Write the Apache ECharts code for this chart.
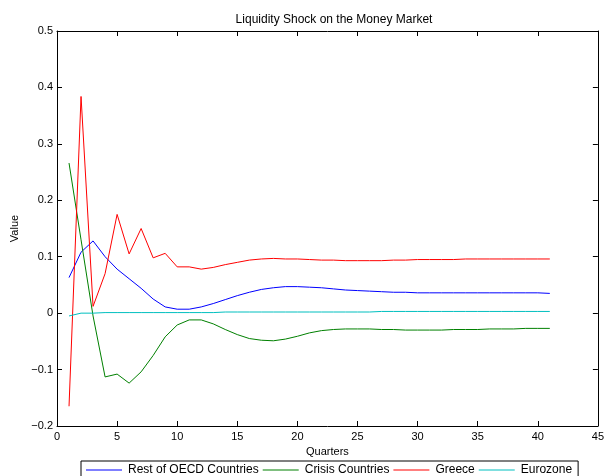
<!DOCTYPE html>
<html>
<head>
<meta charset="utf-8">
<script src="https://cdn.jsdelivr.net/npm/echarts@6/dist/echarts.min.js"></script>
<style>html,body{margin:0;padding:0;background:#fff;}#c{width:607px;height:476px;}</style>
</head>
<body>
<div id="c"></div>
<script>
var quarters = [1,2,3,4,5,6,7,8,9,10,11,12,13,14,15,16,17,18,19,20,21,22,23,24,25,26,27,28,29,30,31,32,33,34,35,36,37,38,39,40,41];
var restOECD = [0.063,0.108,0.128,0.100,0.078,0.061,0.044,0.025,0.011,0.007,0.007,0.011,0.017,0.024,0.031,0.037,0.042,0.045,0.047,0.047,0.046,0.045,0.043,0.041,0.040,0.039,0.038,0.037,0.037,0.036,0.036,0.036,0.036,0.036,0.036,0.036,0.036,0.036,0.036,0.036,0.035];
var crisis = [0.266,0.130,-0.005,-0.113,-0.108,-0.124,-0.104,-0.075,-0.042,-0.021,-0.012,-0.012,-0.019,-0.029,-0.038,-0.045,-0.048,-0.049,-0.046,-0.041,-0.035,-0.031,-0.029,-0.028,-0.028,-0.028,-0.029,-0.029,-0.030,-0.030,-0.030,-0.030,-0.029,-0.029,-0.029,-0.028,-0.028,-0.028,-0.027,-0.027,-0.027];
var greece = [-0.165,0.384,0.012,0.070,0.175,0.105,0.150,0.098,0.106,0.082,0.082,0.078,0.081,0.086,0.090,0.094,0.096,0.097,0.096,0.096,0.095,0.094,0.094,0.093,0.093,0.093,0.093,0.094,0.094,0.095,0.095,0.095,0.095,0.096,0.096,0.096,0.096,0.096,0.096,0.096,0.096];
var eurozone = [-0.005,0.000,0.000,0.001,0.001,0.001,0.001,0.001,0.001,0.001,0.001,0.001,0.001,0.002,0.002,0.002,0.002,0.002,0.002,0.002,0.002,0.002,0.002,0.002,0.002,0.002,0.003,0.003,0.003,0.003,0.003,0.003,0.003,0.003,0.003,0.003,0.003,0.003,0.003,0.003,0.003];
var seriesNames = ['Rest of OECD Countries','Crisis Countries','Greece','Eurozone'];
var seriesColors = ['#0000ff','#008000','#ff0000','#00bfbf'];
var seriesValues = [restOECD, crisis, greece, eurozone];

var chart = echarts.init(document.getElementById('c'), null, {renderer:'canvas'});
var font = 'Liberation Sans, Arial, Helvetica, sans-serif';
function fmtY(v){ var s = (Math.round(v*10)/10).toString(); return s.replace('-', '\u2212'); }
var axisCommon = {
  axisLine:{show:true,onZero:false,lineStyle:{color:'#000',width:1}},
  axisTick:{show:true,inside:true,length:5,lineStyle:{color:'#000'}},
  splitLine:{show:false}
};
var series = seriesNames.map(function(n,i){
  return {
    name:n, type:'line', xAxisIndex:0, yAxisIndex:0,
    data: quarters.map(function(q,j){return [q, seriesValues[i][j]];}),
    showSymbol:false, symbol:'none', silent:true, animation:false,
    lineStyle:{color:seriesColors[i],width:1}, itemStyle:{color:seriesColors[i]}
  };
});
chart.setOption({
  backgroundColor:'#fff',
  animation:false,
  title:{text:'Liquidity Shock on the Money Market', left:329, top:9, textAlign:'center',
    textStyle:{fontFamily:font,fontSize:12,fontWeight:'normal',color:'#000'}},
  grid:{left:57,right:6,top:31,bottom:50,containLabel:false},
  legend:{
    data:seriesNames, left:81, top:461, orient:'horizontal',
    borderColor:'#000', borderWidth:1, padding:[3,6,4,5], itemGap:4,
    itemWidth:36, itemHeight:1, icon:'rect',
    textStyle:{fontFamily:font,fontSize:12,color:'#000',padding:[0,0,0,1]}
  },
  xAxis:[
    Object.assign({type:'value',min:0,max:45,interval:5,position:'bottom',
      name:'Quarters',nameLocation:'middle',nameGap:19,
      nameTextStyle:{fontFamily:font,fontSize:11,color:'#000'},
      axisLabel:{fontFamily:font,fontSize:11,color:'#000',margin:5}}, axisCommon),
    Object.assign({type:'value',min:0,max:45,interval:5,position:'top',axisLabel:{show:false}}, axisCommon)
  ],
  yAxis:[
    Object.assign({type:'value',min:-0.2,max:0.5,interval:0.1,position:'left',
      name:'Value',nameLocation:'middle',nameGap:32,
      nameTextStyle:{fontFamily:font,fontSize:11,color:'#000'},
      axisLabel:{fontFamily:font,fontSize:11,color:'#000',margin:4,formatter:fmtY}}, axisCommon),
    Object.assign({type:'value',min:-0.2,max:0.5,interval:0.1,position:'right',axisLabel:{show:false}}, axisCommon)
  ],
  series:series
});
</script>
</body>
</html>
